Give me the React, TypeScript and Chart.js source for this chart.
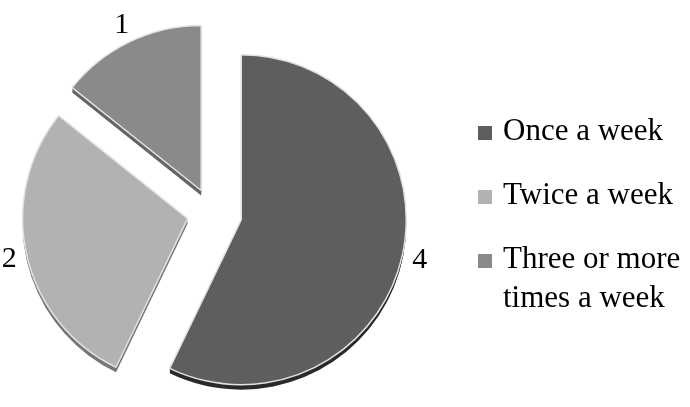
import { useEffect, useRef } from "react";
import { Chart, registerables } from "chart.js";

Chart.register(...registerables);

// Survey answers: how often per week
const categories = ["Once a week", "Twice a week", "Three or more times a week"];
const responses = [4, 2, 1];

// Top faces and darker side faces of the slices
const sliceColors = ["#5e5e5e", "#b2b2b2", "#8a8a8a"];
const sideColors = ["#2a2a2a", "#767676", "#646464"];
// How far each slice is pulled out from the centre
const explodeDistance = [30, 25, 25];

const SERIF = '"Liberation Serif", "Times New Roman", serif';
const SIDE_DEPTH = 5;

function arcGeometry(arc: any) {
  const p = arc.getProps(["x", "y", "startAngle", "endAngle", "outerRadius"], true);
  return {
    cx: p.x,
    cy: p.y,
    start: p.startAngle,
    end: p.endAngle,
    r: p.outerRadius,
    mid: (p.startAngle + p.endAngle) / 2,
  };
}

// Pull each slice outward along its bisector (keeps its radius unchanged)
const explodePlugin = {
  id: "explodeSlices",
  afterDatasetsUpdate(chart: any) {
    const meta = chart.getDatasetMeta(0);
    meta.data.forEach((arc: any, i: number) => {
      const mid = (arc.startAngle + arc.endAngle) / 2;
      const d = explodeDistance[i] || 0;
      arc.x += Math.cos(mid) * d;
      arc.y += Math.sin(mid) * d;
    });
  },
};

// Thin extruded edge under every slice for a raised look
const sidePlugin = {
  id: "pieSide",
  beforeDatasetsDraw(chart: any) {
    const ctx = chart.ctx;
    const meta = chart.getDatasetMeta(0);
    meta.data.forEach((arc: any, i: number) => {
      const g = arcGeometry(arc);
      ctx.save();
      ctx.fillStyle = sideColors[i];
      for (let d = 1; d <= SIDE_DEPTH; d++) {
        ctx.beginPath();
        ctx.moveTo(g.cx, g.cy + d);
        ctx.arc(g.cx, g.cy + d, g.r, g.start, g.end);
        ctx.closePath();
        ctx.fill();
      }
      ctx.restore();
    });
  },
};

// Value labels just outside each slice
const valueLabelPlugin = {
  id: "valueLabels",
  afterDatasetsDraw(chart: any) {
    const ctx = chart.ctx;
    const meta = chart.getDatasetMeta(0);
    const values = chart.data.datasets[0].data as number[];
    meta.data.forEach((arc: any, i: number) => {
      const g = arcGeometry(arc);
      const dist = g.r + 18;
      const x = g.cx + Math.cos(g.mid) * dist;
      const y = g.cy + Math.sin(g.mid) * dist;
      ctx.save();
      ctx.font = `30px ${SERIF}`;
      ctx.fillStyle = "#000";
      ctx.textAlign = "center";
      ctx.textBaseline = "middle";
      ctx.fillText(String(values[i]), x, y);
      ctx.restore();
    });
  },
};

export default function App() {
  const canvasRef = useRef<HTMLCanvasElement | null>(null);

  useEffect(() => {
    document.body.style.margin = "0";
    const canvas = canvasRef.current;
    if (!canvas) return;
    const chart = new Chart(canvas, {
      type: "pie",
      data: {
        labels: categories,
        datasets: [
          {
            data: responses,
            backgroundColor: sliceColors,
            borderColor: "#e2e2e2",
            borderWidth: 1.5,
            offset: 0,
            hoverOffset: 0,
          },
        ],
      },
      options: {
        responsive: false,
        animation: false,
        radius: 165,
        layout: { padding: { left: 0, right: 266, top: 19, bottom: 0 } },
        plugins: {
          legend: { display: false },
          tooltip: { enabled: false },
        },
      } as any,
      plugins: [explodePlugin, sidePlugin, valueLabelPlugin],
    });
    return () => chart.destroy();
  }, []);

  return (
    <div style={{ position: "relative", width: 690, height: 407, background: "#fff" }}>
      <canvas ref={canvasRef} width={690} height={407} style={{ display: "block" }} />
      <div
        style={{
          position: "absolute",
          left: 478,
          top: 110,
          width: 212,
          fontFamily: SERIF,
          fontSize: 31,
          lineHeight: "39px",
          color: "#000",
        }}
      >
        {categories.map((name, i) => (
          <div key={name} style={{ position: "relative", paddingLeft: 25, marginBottom: 25 }}>
            <span
              style={{
                position: "absolute",
                left: 0,
                top: 16,
                width: 14,
                height: 14,
                background: sliceColors[i],
              }}
            />
            {name}
          </div>
        ))}
      </div>
    </div>
  );
}
